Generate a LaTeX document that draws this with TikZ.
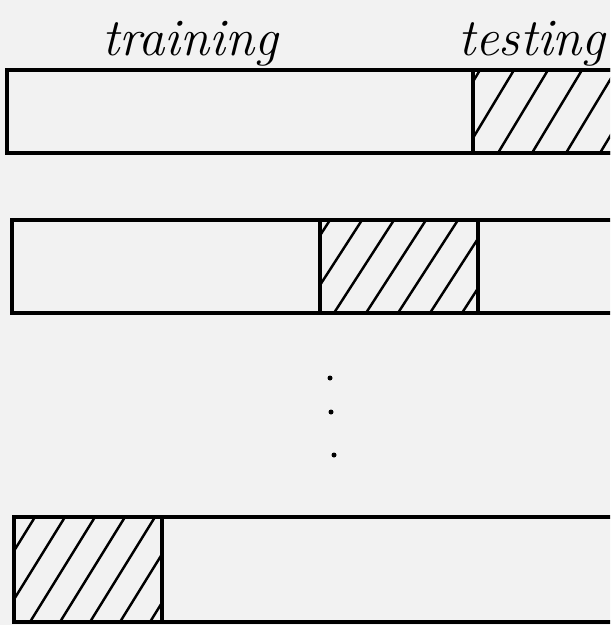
\documentclass[tikz,border=0pt]{standalone}
\usetikzlibrary{fit}
\definecolor{paper}{HTML}{F2F2F2}
\definecolor{ink}{HTML}{000000}
\tikzset{
  bar/.style={draw=ink, line width=2.2pt, inner sep=0pt, fill=paper},
  testpart/.style={draw=ink, line width=2pt, inner sep=0pt},
  hatch/.style={ink, line width=1.4pt, line cap=round},
  word/.style={font=\fontsize{30}{30}\selectfont\itshape, text=ink, inner sep=0pt},
  gapdot/.style={ink},
}

\begin{document}
\begin{tikzpicture}[x=0.02cm,y=-0.02cm]
  \fill[paper] (0,0) rectangle (610,625);
  \useasboundingbox (0,0) rectangle (610,625);
  \clip (0,0) rectangle (610,625);

  % labels
  \node[word, anchor=base] (trainlbl) at (190,56) {training};
  \node[word, anchor=base east] (testlbl) at (606,56) {testing};

  % fold 1
  \node[bar, fit={(7,70) (625,153)}] (fold1) {};
  \begin{scope}
    \clip (473,70) rectangle (625,153);
    \foreach \x in {430,464,...,640}
      \draw[hatch] (\x,153) -- ++(50,-83);
  \end{scope}
  \node[testpart, fit={(473,70) (625,153)}] (test1) {};

  % fold 2
  \node[bar, fit={(12,220) (625,313)}] (fold2) {};
  \begin{scope}
    \clip (320,220) rectangle (478,313);
    \foreach \x in {270,302,...,480}
      \draw[hatch] (\x,313) -- ++(60,-93);
  \end{scope}
  \node[testpart, fit={(320,220) (478,313)}] (test2) {};

  % dots
  \fill[gapdot] (330,378) circle (2.5);
  \fill[gapdot] (331,412) circle (2.5);
  \fill[gapdot] (334,455) circle (2.5);

  % fold k
  \node[bar, fit={(14,517) (625,622)}] (fold3) {};
  \begin{scope}
    \clip (14,517) rectangle (162,622);
    \foreach \x in {-60,-30,...,165}
      \draw[hatch] (\x,622) -- ++(65,-105);
  \end{scope}
  \node[testpart, fit={(14,517) (162,622)}] (test3) {};
\end{tikzpicture}
\end{document}
